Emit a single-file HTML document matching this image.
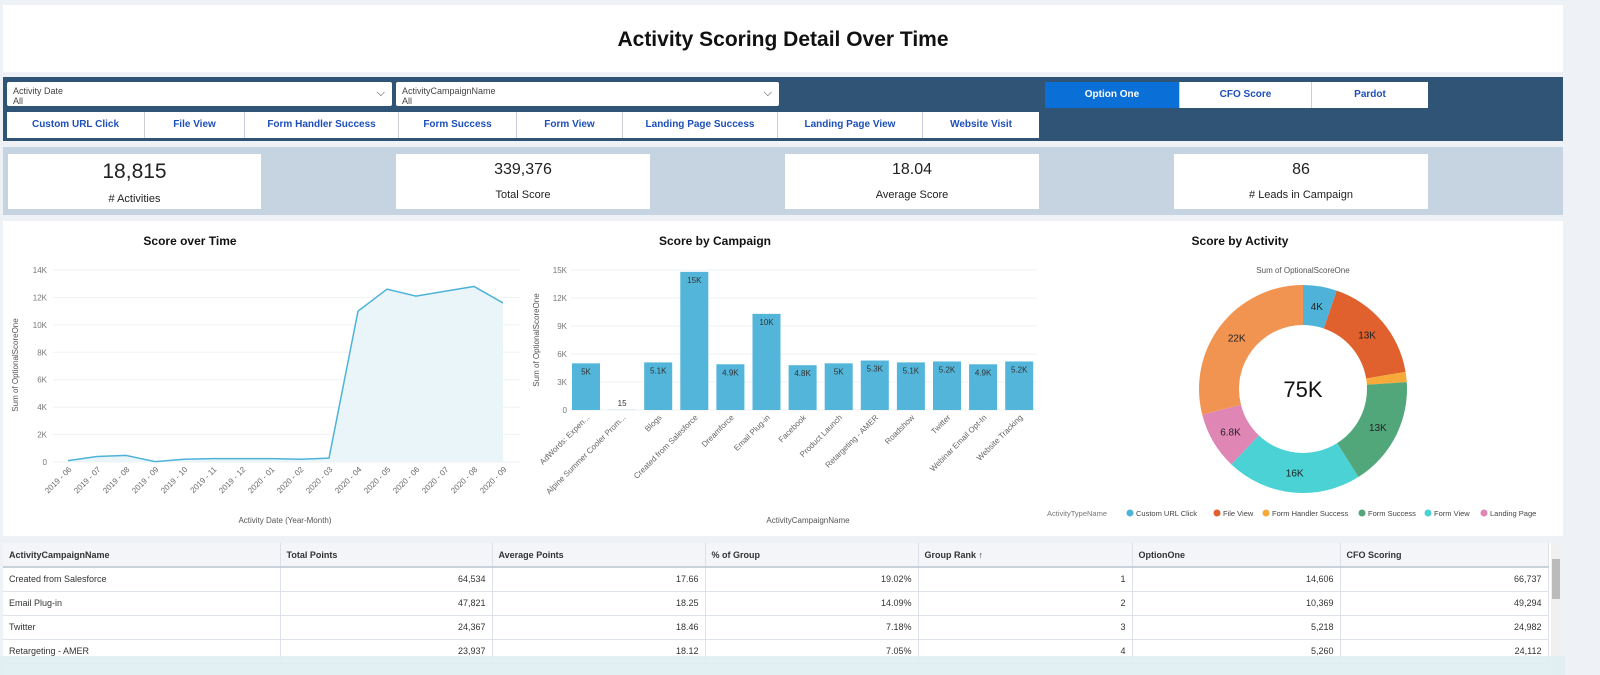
<!DOCTYPE html>
<html><head><meta charset="utf-8">
<style>
*{box-sizing:border-box;margin:0;padding:0}
body{width:1600px;height:675px;overflow:hidden;background:#eef2f6;font-family:"Liberation Sans",sans-serif;position:relative}
.abs{position:absolute}
.title{left:3px;top:5px;width:1560px;height:67px;background:#fff;text-align:center;font-weight:bold;font-size:21px;line-height:70px;color:#111}
.filt{left:3px;top:77px;width:1560px;height:64px;background:#2f5476}
.dd{background:#fff;border-radius:2px;height:24px;font-size:9px;color:#444;padding:4px 6px;line-height:10px}
.dd i{position:absolute;right:7px;top:6px;font-style:normal;font-size:11px;color:#333}
.btnrow{display:flex;background:#fff}
.btnrow div{border-right:1px solid #ccd;text-align:center;font-size:10px;font-weight:bold;color:#1d4fb8;line-height:26px}
.kpiband{left:3px;top:147px;width:1560px;height:68px;background:#c6d4e1}
.kpi{background:#fff;top:154px;height:55px;text-align:center;color:#222}
.panel{left:3px;top:221px;width:1560px;height:315px;background:#fff}
.tbl{left:3px;top:543px;width:1558px;height:132px;background:#fff}
table{border-collapse:collapse;font-size:9px;color:#333;table-layout:fixed}
td,th{border-right:1px solid #dde2ea;border-bottom:1px solid #dde2ea;height:24px;padding:0 6px}
th{text-align:left;background:#f3f5f8;border-bottom:2px solid #c9d1db;font-weight:bold}
td.n{text-align:right}
</style></head><body>
<div class="abs title">Activity Scoring Detail Over Time</div>
<div class="abs filt">
 <div class="abs dd" style="left:4px;top:5px;width:385px">Activity Date<br>All<i>⌵</i></div>
 <div class="abs dd" style="left:393px;top:5px;width:383px">ActivityCampaignName<br>All<i>⌵</i></div>
 <div class="abs btnrow" style="left:4px;top:35px;width:1032px;height:26px">
  <div style="width:138px">Custom URL Click</div>
  <div style="width:100px">File View</div>
  <div style="width:154px">Form Handler Success</div>
  <div style="width:118px">Form Success</div>
  <div style="width:106px">Form View</div>
  <div style="width:155px">Landing Page Success</div>
  <div style="width:145px">Landing Page View</div>
  <div style="width:116px;border:none">Website Visit</div>
 </div>
 <div class="abs btnrow" style="left:1042px;top:5px;width:383px;height:26px">
  <div style="width:135px;background:#0a6fd6;color:#fff">Option One</div>
  <div style="width:132px">CFO Score</div>
  <div style="width:116px;border:none">Pardot</div>
 </div>
</div>
<div class="abs kpiband"></div>
<div class="abs kpi" style="left:8px;width:253px"><div style="font-size:21px;margin-top:6px">18,815</div><div style="font-size:11px;margin-top:9px"># Activities</div></div>
<div class="abs kpi" style="left:396px;width:254px"><div style="font-size:16px;margin-top:7px">339,376</div><div style="font-size:11px;margin-top:10px">Total Score</div></div>
<div class="abs kpi" style="left:785px;width:254px"><div style="font-size:16px;margin-top:7px">18.04</div><div style="font-size:11px;margin-top:10px">Average Score</div></div>
<div class="abs kpi" style="left:1174px;width:254px"><div style="font-size:16px;margin-top:7px">86</div><div style="font-size:11px;margin-top:10px"># Leads in Campaign</div></div>
<div class="abs panel"></div>
<svg class="abs" style="left:0;top:0" width="1600" height="540" id="svg" font-family="Liberation Sans, sans-serif"></svg>
<div class="abs tbl">
<table style="width:1545px">
<colgroup><col style="width:277px"><col style="width:212px"><col style="width:213px"><col style="width:213px"><col style="width:214px"><col style="width:208px"><col style="width:208px"></colgroup>
<tr><th>ActivityCampaignName</th><th>Total Points</th><th>Average Points</th><th>% of Group</th><th>Group Rank ↑</th><th>OptionOne</th><th>CFO Scoring</th></tr>
<tr><td>Created from Salesforce</td><td class="n">64,534</td><td class="n">17.66</td><td class="n">19.02%</td><td class="n">1</td><td class="n">14,606</td><td class="n">66,737</td></tr>
<tr><td>Email Plug-in</td><td class="n">47,821</td><td class="n">18.25</td><td class="n">14.09%</td><td class="n">2</td><td class="n">10,369</td><td class="n">49,294</td></tr>
<tr><td>Twitter</td><td class="n">24,367</td><td class="n">18.46</td><td class="n">7.18%</td><td class="n">3</td><td class="n">5,218</td><td class="n">24,982</td></tr>
<tr><td>Retargeting - AMER</td><td class="n">23,937</td><td class="n">18.12</td><td class="n">7.05%</td><td class="n">4</td><td class="n">5,260</td><td class="n">24,112</td></tr>
</table>
<div class="abs" style="left:1548px;top:0;width:10px;height:132px;background:#f0f0f0"><div style="margin:16px 1px;height:40px;background:#bbb"></div></div>
</div>
<div class="abs" style="left:0;top:656px;width:1565px;height:19px;background:#dfeef3;opacity:.9"></div>
<script>
const months=["2019 - 06","2019 - 07","2019 - 08","2019 - 09","2019 - 10","2019 - 11","2019 - 12","2020 - 01","2020 - 02","2020 - 03","2020 - 04","2020 - 05","2020 - 06","2020 - 07","2020 - 08","2020 - 09"];
const lineValues=[100,400,480,30,200,250,250,250,200,280,11000,12600,12100,12450,12800,11600];
const lineTicks=[0,2000,4000,6000,8000,10000,12000,14000];
const campaigns=["AdWords: Expen...","Alpine Summer Cooler Prom...","Blogs","Created from Salesforce","Dreamforce","Email Plug-in","Facebook","Product Launch","Retargeting - AMER","Roadshow","Twitter","Webinar Email Opt-In","Website Tracking"];
const barValues=[5000,15,5100,14800,4900,10300,4800,5000,5300,5100,5200,4900,5200];
const barLabels=["5K","15","5.1K","15K","4.9K","10K","4.8K","5K","5.3K","5.1K","5.2K","4.9K","5.2K"];
const barTicks=[0,3000,6000,9000,12000,15000];
const activities=["Custom URL Click","File View","Form Handler Success","Form Success","Form View","Landing Page","Website Visit"];
const donutValues=[4000,13000,1200,13000,16000,6800,22000];
const donutLabels=["4K","13K","","13K","16K","6.8K","22K"];
const donutTotalLabel="75K";
const donutColors=["#4fb3d9","#e0602e","#f7aa3a","#52a77a","#4ad2d4","#e086b5","#f19452"];

const svg=document.getElementById('svg');const NS='http://www.w3.org/2000/svg';
function mk(t,a,txt){const e=document.createElementNS(NS,t);for(const k in a)e.setAttribute(k,a[k]);if(txt!==undefined)e.textContent=txt;svg.appendChild(e);return e;}
function kf(v){return v===0?'0':(v/1000)+'K';}
let e;
e=mk('text',{x:190,y:245,'text-anchor':'middle','font-size':12,'font-weight':'bold',fill:'#111'},'Score over Time');


e=mk('text',{x:715,y:245,'text-anchor':'middle','font-size':12,'font-weight':'bold',fill:'#111'},'Score by Campaign');


e=mk('text',{x:1240,y:245,'text-anchor':'middle','font-size':12,'font-weight':'bold',fill:'#111'},'Score by Activity');



const lx0=53,lx1=520,ly0=462,ly1=270,lmax=14000;
const lX=i=>68+i*(503-68)/(months.length-1);
const lY=v=>ly0-(v/lmax)*(ly0-ly1);
lineTicks.forEach(t=>{mk('line',{x1:lx0,x2:lx1,y1:lY(t),y2:lY(t),stroke:'#eef1f4'});
 e=mk('text',{x:47,y:lY(t)+3,'text-anchor':'end','font-size':8,fill:'#777'},kf(t));
 
 });
let pts=lineValues.map((v,i)=>lX(i)+','+lY(v)).join(' ');
e=mk('polygon',{points:lX(0)+','+ly0+' '+pts+' '+lX(lineValues.length-1)+','+ly0,fill:'#e9f5f9'});


e=mk('polyline',{points:pts,fill:'none',stroke:'#4fb3d9','stroke-width':1.5});


months.forEach((m,i)=>{e=mk('text',{x:lX(i)+4,y:470,'text-anchor':'end','font-size':8,fill:'#666',transform:`rotate(-45 ${lX(i)+4} 470)`},m);
 
 });
e=mk('text',{x:285,y:523,'text-anchor':'middle','font-size':8,fill:'#555'},'Activity Date (Year-Month)');


e=mk('text',{x:18,y:365,'text-anchor':'middle','font-size':8,fill:'#555',transform:'rotate(-90 18 365)'},'Sum of OptionalScoreOne');



const by0=410,by1=270,bmax=15000;
const bY=v=>by0-(v/bmax)*(by0-by1);
const bX=i=>572+i*36.1;const bw=28;
barTicks.forEach(t=>{mk('line',{x1:570,x2:1037,y1:bY(t),y2:bY(t),stroke:'#eef1f4'});
 e=mk('text',{x:567,y:bY(t)+3,'text-anchor':'end','font-size':8,fill:'#777'},kf(t));
 
 });
barValues.forEach((v,i)=>{
 e=mk('rect',{x:bX(i),y:bY(v),width:bw,height:by0-bY(v),fill:'#52b5d9'});
 
 
 const ly=v<1000?bY(v)-4:bY(v)+11;
 e=mk('text',{x:bX(i)+bw/2,y:ly,'text-anchor':'middle','font-size':8,fill:'#333'},barLabels[i]);
 
 
 e=mk('text',{x:bX(i)+bw/2+4,y:418,'text-anchor':'end','font-size':8,fill:'#666',transform:`rotate(-45 ${bX(i)+bw/2+4} 418)`},campaigns[i]);
 
 });
e=mk('text',{x:808,y:523,'text-anchor':'middle','font-size':8,fill:'#555'},'ActivityCampaignName');


e=mk('text',{x:539,y:340,'text-anchor':'middle','font-size':8,fill:'#555',transform:'rotate(-90 539 340)'},'Sum of OptionalScoreOne');



const cx=1303,cy=389,R=104,r=64;
e=mk('text',{x:cx,y:273,'text-anchor':'middle','font-size':8,fill:'#555'},'Sum of OptionalScoreOne');


const tot=donutValues.reduce((a,b)=>a+b,0);let a0=0;
donutValues.forEach((v,i)=>{const a1=a0+v/tot*2*Math.PI;
 const p=(rr,a)=>[cx+rr*Math.sin(a),cy-rr*Math.cos(a)];
 const [x1,y1]=p(R,a0),[x2,y2]=p(R,a1),[x3,y3]=p(r,a1),[x4,y4]=p(r,a0);const lg=(a1-a0)>Math.PI?1:0;
 e=mk('path',{d:`M${x1},${y1}A${R},${R} 0 ${lg} 1 ${x2},${y2}L${x3},${y3}A${r},${r} 0 ${lg} 0 ${x4},${y4}Z`,fill:donutColors[i]});
 
 
 const am=(a0+a1)/2;const [lx,ly]=p((R+r)/2,am);
 if(donutLabels[i]){e=mk('text',{x:lx,y:ly+4,'text-anchor':'middle','font-size':10,fill:'#222'},donutLabels[i]);
 
 }
 a0=a1;});
e=mk('text',{x:cx,y:cy+8,'text-anchor':'middle','font-size':22,fill:'#111'},donutTotalLabel);


e=mk('text',{x:1047,y:516,'font-size':7.5,fill:'#777'},'ActivityTypeName');


const legX=[1130,1217,1266,1362,1428,1484];
activities.slice(0,6).forEach((n,i)=>{
 mk('circle',{cx:legX[i],cy:513,r:3.5,fill:donutColors[i]});
 e=mk('text',{x:legX[i]+6,y:516,'font-size':7.5,fill:'#444'},n);
 
 });
</script>
</body></html>
